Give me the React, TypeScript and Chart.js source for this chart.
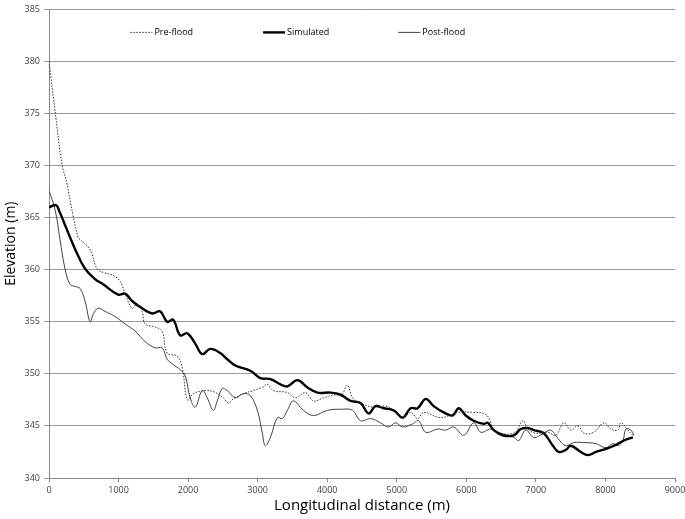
import React, { useEffect, useRef } from "react";
import { Chart, registerables } from "chart.js";

Chart.register(...registerables);

const seriesLabels = ["Pre-flood", "Simulated", "Post-flood"];
const xTickValues = [0, 1000, 2000, 3000, 4000, 5000, 6000, 7000, 8000, 9000];

const preX = [0, 86, 187, 250, 346, 418, 446, 562, 619, 691, 800, 907, 1022, 1094, 1195, 1267, 1339, 1382, 1526, 1627, 1699, 1843, 1915, 1990, 2074, 2246, 2362, 2506, 2578, 2650, 2794, 2938, 3067, 3139, 3226, 3427, 3543, 3687, 3802, 3946, 4120, 4200, 4291, 4364, 4479, 4666, 4839, 4954, 5084, 5199, 5300, 5386, 5631, 5876, 6106, 6250, 6330, 6394, 6682, 6812, 6884, 6999, 7172, 7287, 7402, 7503, 7603, 7690, 7834, 7978, 8078, 8179, 8223, 8323, 8395];
const preY = [380, 375.3, 370.1, 368.5, 365.2, 363.1, 362.9, 362.2, 361.5, 360.1, 359.7, 359.5, 358.9, 357.7, 356.3, 356.7, 356.0, 354.8, 354.5, 354.1, 352.0, 351.7, 350.6, 347.5, 348.1, 348.4, 348.3, 347.7, 347.2, 347.6, 348.1, 348.4, 348.7, 349.0, 348.4, 348.2, 347.7, 348.2, 347.4, 347.7, 348.0, 347.9, 348.9, 347.7, 347.2, 346.8, 346.9, 346.5, 345.7, 346.3, 345.7, 346.3, 345.8, 346.3, 346.3, 346.2, 345.7, 344.6, 344.3, 345.5, 344.7, 344.3, 344.4, 344.1, 345.3, 344.6, 345.0, 344.3, 344.4, 345.3, 344.7, 344.6, 345.3, 344.6, 344.1];

const simX = [0, 100, 150, 230, 374, 518, 662, 778, 994, 1094, 1195, 1339, 1483, 1598, 1699, 1786, 1886, 1987, 2103, 2203, 2318, 2462, 2563, 2678, 2895, 3039, 3183, 3326, 3427, 3571, 3716, 3860, 4047, 4191, 4335, 4479, 4594, 4695, 4810, 4954, 5084, 5199, 5300, 5415, 5530, 5674, 5803, 5890, 5991, 6106, 6250, 6308, 6394, 6524, 6682, 6783, 6884, 6970, 7114, 7244, 7330, 7431, 7503, 7647, 7748, 7863, 8007, 8122, 8266, 8395];
const simY = [366.0, 366.2, 365.6, 364.3, 362.0, 360.1, 359.1, 358.6, 357.6, 357.7, 357.0, 356.3, 355.8, 356.0, 355.0, 355.2, 353.7, 353.9, 352.9, 351.9, 352.4, 352.0, 351.4, 350.8, 350.3, 349.6, 349.5, 349.0, 348.8, 349.4, 348.7, 348.2, 348.2, 348.0, 347.4, 347.2, 346.2, 346.9, 346.7, 346.5, 345.8, 346.7, 346.7, 347.6, 346.9, 346.3, 346.0, 346.7, 346.0, 345.5, 345.2, 345.3, 344.6, 344.1, 344.1, 344.7, 344.8, 344.6, 344.3, 343.1, 342.5, 342.7, 343.1, 342.5, 342.2, 342.5, 342.8, 343.1, 343.6, 343.9];

const postX = [0, 86, 158, 230, 302, 374, 446, 518, 590, 634, 706, 806, 950, 1094, 1238, 1382, 1526, 1627, 1699, 1786, 1886, 1958, 2030, 2103, 2203, 2275, 2362, 2419, 2491, 2563, 2678, 2794, 2895, 2995, 3067, 3110, 3183, 3283, 3355, 3427, 3514, 3658, 3802, 4004, 4191, 4364, 4479, 4623, 4767, 4882, 4983, 5084, 5228, 5314, 5415, 5588, 5703, 5818, 5962, 6106, 6207, 6351, 6495, 6682, 6754, 6855, 6970, 7114, 7215, 7316, 7431, 7546, 7690, 7863, 8007, 8107, 8179, 8251, 8294, 8366, 8409];
const postY = [367.6, 365.8, 362.9, 360.1, 358.6, 358.4, 358.2, 357.0, 355.0, 355.7, 356.3, 356.0, 355.5, 354.8, 354.1, 353.1, 352.5, 352.5, 351.4, 350.9, 350.4, 349.8, 347.7, 346.8, 348.4, 347.7, 346.5, 347.4, 348.6, 348.4, 347.7, 348.1, 347.9, 346.5, 344.3, 343.1, 343.9, 345.8, 345.7, 346.5, 347.4, 346.5, 346.0, 346.5, 346.6, 346.5, 345.5, 345.7, 345.3, 344.9, 345.3, 344.9, 345.2, 345.5, 344.4, 344.7, 344.6, 344.9, 344.1, 345.3, 344.4, 344.7, 344.3, 343.9, 343.6, 344.6, 343.9, 344.3, 344.6, 343.8, 343.1, 343.4, 343.4, 343.3, 342.9, 343.3, 343.1, 343.6, 344.7, 344.6, 344.1];

const toPoints = (xs: number[], ys: number[]) => xs.map((x, i) => ({ x, y: ys[i] }));

const FONT = "'Open Sans', 'Liberation Sans', sans-serif";

const insideLegend = {
  id: "insideLegend",
  afterDraw(chart: any) {
    const { ctx, chartArea } = chart;
    const y = chartArea.top + 23;
    const w = chartArea.right - chartArea.left;
    const starts = [0.13, 0.342, 0.558];
    ctx.save();
    ctx.font = `9px ${FONT}`;
    ctx.textBaseline = "middle";
    ctx.fillStyle = "#000";
    chart.data.datasets.forEach((ds: any, i: number) => {
      const x0 = chartArea.left + starts[i] * w;
      ctx.beginPath();
      ctx.strokeStyle = ds.borderColor;
      ctx.lineWidth = ds.borderWidth;
      ctx.setLineDash(ds.borderDash || []);
      ctx.moveTo(x0, y);
      ctx.lineTo(x0 + 22, y);
      ctx.stroke();
      ctx.setLineDash([]);
      ctx.fillText(ds.label, x0 + 24, y);
    });
    ctx.restore();
  },
};

export default function App() {
  const ref = useRef<HTMLCanvasElement>(null);
  useEffect(() => {
    const chart = new Chart(ref.current!, {
      type: "line",
      data: {
        datasets: [
          {
            label: seriesLabels[0],
            data: toPoints(preX, preY),
            borderColor: "#333",
            borderWidth: 1,
            borderDash: [1.5, 1.5],
            pointRadius: 0,
            tension: 0.4,
            fill: false,
          },
          {
            label: seriesLabels[1],
            data: toPoints(simX, simY),
            borderColor: "#000",
            borderWidth: 2.4,
            pointRadius: 0,
            tension: 0.4,
            fill: false,
          },
          {
            label: seriesLabels[2],
            data: toPoints(postX, postY),
            borderColor: "#444",
            borderWidth: 1,
            pointRadius: 0,
            tension: 0.4,
            fill: false,
          },
        ],
      },
      options: {
        animation: false,
        responsive: false,
        layout: { padding: { top: 5, right: 0, left: 0, bottom: 0 } },
        plugins: { legend: { display: false }, tooltip: { enabled: false } },
        scales: {
          x: {
            type: "linear",
            min: 0,
            max: 9000,
            afterBuildTicks: (axis: any) => {
              axis.ticks = xTickValues.map((v) => ({ value: v }));
            },
            afterFit: (axis: any) => {
              axis.height = 41;
              axis.paddingRight = 10;
            },
            grid: { drawOnChartArea: false, drawTicks: true, tickLength: 4, color: "#888" },
            border: { color: "#888" },
            ticks: {
              font: { size: 9, family: FONT },
              color: "#404040",
              padding: 3,
              maxRotation: 0,
              callback: (v: any) => String(v),
            },
            title: {
              display: true,
              text: "Longitudinal distance (m)",
              font: { size: 15, family: FONT },
              color: "#000",
              padding: { top: 0, bottom: 4 },
            },
          },
          y: {
            min: 340,
            max: 385,
            ticks: {
              stepSize: 5,
              font: { size: 9, family: FONT },
              color: "#404040",
              padding: 4,
              callback: (v: any) => String(v),
            },
            afterFit: (axis: any) => {
              axis.width = 49;
            },
            grid: { color: "#999", tickLength: 5, drawTicks: true },
            border: { color: "#888" },
            title: {
              display: true,
              text: "Elevation (m)",
              font: { size: 14, family: FONT },
              color: "#000",
              padding: { top: 3, bottom: 0 },
            },
          },
        },
      },
      plugins: [insideLegend],
    } as any);
    return () => chart.destroy();
  }, []);
  return (
    <div style={{ position: "fixed", left: 0, top: 0, width: 685, height: 519, background: "#fff" }}>
      <canvas ref={ref} width={685} height={519} />
    </div>
  );
}
